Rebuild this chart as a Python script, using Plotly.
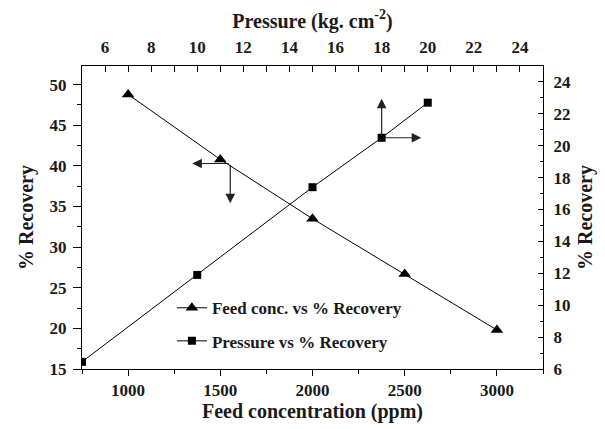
import plotly.graph_objects as go

# Feed concentration series (bottom x, left y)
feed_ppm = [1000, 1500, 2000, 2500, 3000]
feed_recovery = [48.8, 40.8, 33.5, 26.7, 19.8]

# Pressure series (top x, right y)
pressure = [5, 10, 15, 18, 20]
pressure_recovery = [6.45, 11.9, 17.4, 20.5, 22.7]

# Tick labels
bottom_ticks = [1000, 1500, 2000, 2500, 3000]
top_ticks = [6, 8, 10, 12, 14, 16, 18, 20, 22, 24]
left_ticks = [15, 20, 25, 30, 35, 40, 45, 50]
right_ticks = [6, 8, 10, 12, 14, 16, 18, 20, 22, 24]

FONT = "Liberation Serif"

def bold(vals):
    return ["<b>%s</b>" % v for v in vals]

fig = go.Figure()
fig.add_trace(go.Scatter(
    x=feed_ppm, y=feed_recovery, xaxis="x", yaxis="y",
    mode="lines+markers", name="<b>Feed conc. vs % Recovery</b>",
    line=dict(color="black", width=1),
    marker=dict(symbol="triangle-up", size=11, color="black"),
    legendgroup="a",
))
fig.add_trace(go.Scatter(
    x=pressure, y=pressure_recovery, xaxis="x2", yaxis="y2",
    mode="lines+markers", name="<b>Pressure vs % Recovery</b>",
    line=dict(color="black", width=1),
    marker=dict(symbol="square", size=8, color="black"),
    legendgroup="b",
))

tickfont = dict(family=FONT, size=17, color="#1a1a1a", weight="bold")
titlefont = dict(family=FONT, size=20, color="#1a1a1a", weight="bold")

fig.update_layout(
    width=605, height=429,
    margin=dict(l=82, r=62, t=66, b=60),
    paper_bgcolor="white", plot_bgcolor="white",
    showlegend=True,
    legend=dict(x=0.195, y=0.26, xanchor="left", yanchor="top",
                font=dict(family=FONT, size=17, color="#1a1a1a", weight="bold"),
                bgcolor="rgba(0,0,0,0)", tracegroupgap=8),
    xaxis=dict(range=[750, 3250], tickvals=bottom_ticks, ticktext=bold(bottom_ticks),
               ticks="outside", ticklen=6, tickwidth=1, tickcolor="black",
               minor=dict(dtick=250, tick0=750, ticks="outside", ticklen=4, tickcolor="black"),
               showline=True, linecolor="black", linewidth=1, mirror=False,
               showgrid=False, zeroline=False, tickfont=tickfont,
               title=dict(text="<b>Feed concentration (ppm)</b>", font=titlefont, standoff=2)),
    xaxis2=dict(range=[5, 25], overlaying="x", side="top", anchor="y",
                tickvals=top_ticks, ticktext=bold(top_ticks),
                ticks="inside", ticklen=6, tickwidth=1, tickcolor="black",
                minor=dict(dtick=1, tick0=5, ticks="inside", ticklen=6, tickcolor="black"),
                showline=True, linecolor="black", linewidth=1,
                showgrid=False, zeroline=False, tickfont=tickfont,
                ticklabelstandoff=5,
                title=dict(text="<b>Pressure (kg. cm<sup>-2</sup>)</b>", font=titlefont, standoff=4)),
    yaxis=dict(range=[15, 52.3], tickvals=left_ticks, ticktext=bold(left_ticks),
               ticks="outside", ticklen=8, tickwidth=1, tickcolor="black",
               minor=dict(dtick=2.5, tick0=15, ticks="outside", ticklen=4, tickcolor="black"),
               showline=True, linecolor="black", linewidth=1,
               showgrid=False, zeroline=False, tickfont=tickfont,
               ticklabelstandoff=3,
               title=dict(text="<b>% Recovery</b>", font=titlefont, standoff=10)),
    yaxis2=dict(range=[6, 25], overlaying="y", side="right", anchor="x",
                tickvals=right_ticks, ticktext=bold(right_ticks),
                ticks="inside", ticklen=5, tickwidth=1, tickcolor="black",
                minor=dict(dtick=1, tick0=6, ticks="inside", ticklen=3, tickcolor="black"),
                showline=True, linecolor="black", linewidth=1,
                showgrid=False, zeroline=False, tickfont=tickfont,
                ticklabelstandoff=6,
                title=dict(text="<b>% Recovery</b>", font=titlefont, standoff=8)),
)

arrow = dict(text="", showarrow=True, arrowhead=2, arrowsize=1.6,
             arrowwidth=1.2, arrowcolor="#222", standoff=0, startstandoff=0)
# Arrows pointing to the axes each series uses
fig.add_annotation(x=1348, y=40.3, xref="x", yref="y", ax=38, ay=0, **arrow)
fig.add_annotation(x=1554, y=35.4, xref="x", yref="y", ax=0, ay=-40, **arrow)
fig.add_annotation(x=18, y=22.95, xref="x2", yref="y2", ax=0, ay=39, **arrow)
fig.add_annotation(x=19.72, y=20.5, xref="x2", yref="y2", ax=-40, ay=0, **arrow)

fig.write_html("out.html")
